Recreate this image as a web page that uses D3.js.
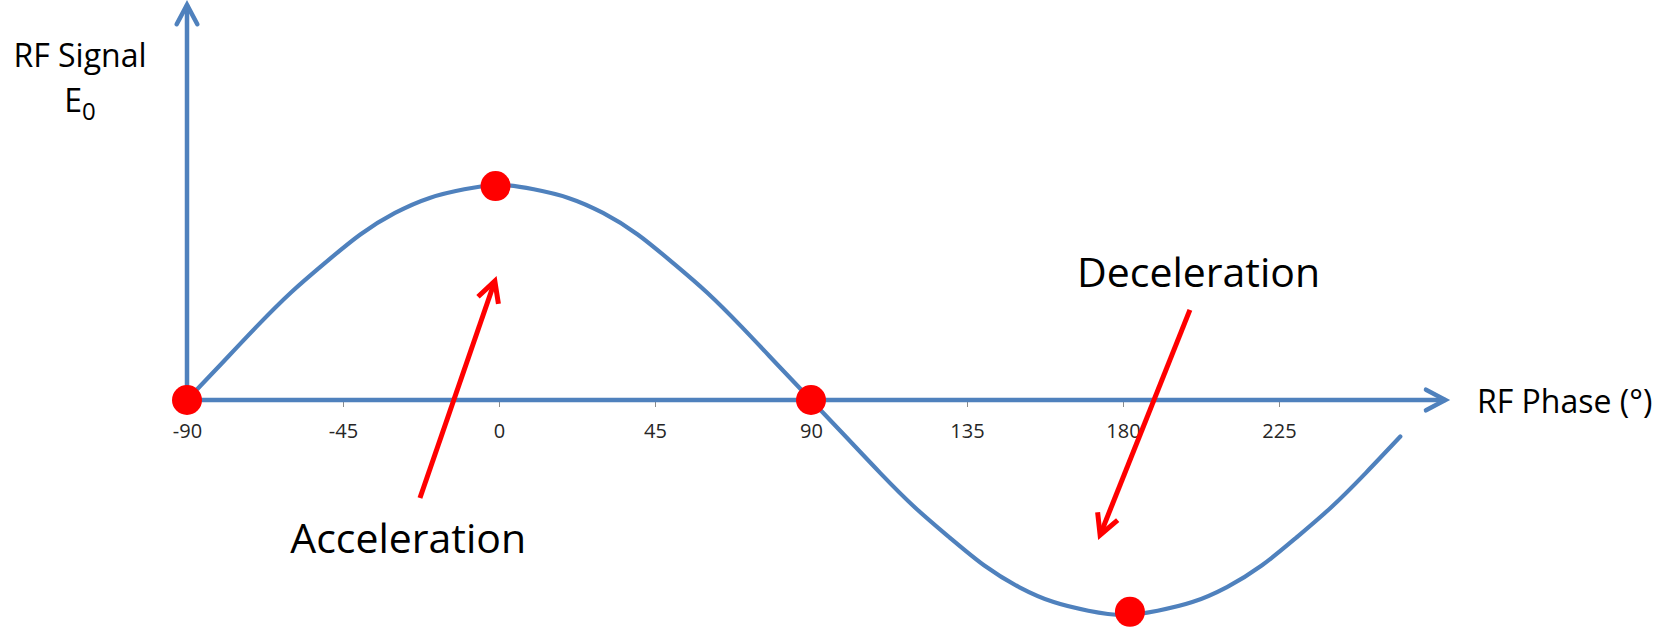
<!DOCTYPE html>
<html>
<head>
<meta charset="utf-8">
<script src="https://cdn.jsdelivr.net/npm/d3@7"></script>
<style>
  html, body { margin: 0; padding: 0; background: #ffffff; }
  svg { display: block; }
  text { font-family: "Open Sans", "Noto Sans", sans-serif; }
</style>
</head>
<body>
<svg id="chart" width="1669" height="627"></svg>
<script>
// ---- data ----
const phases = [-90,-80,-70,-60,-50,-40,-30,-20,-10,0,10,20,30,40,50,60,70,80,90,
                100,110,120,130,140,150,160,170,180,190,200,210,220,230,240,250,260];
const signal = [0.00,0.17,0.34,0.50,0.64,0.77,0.87,0.94,0.98,1.00,0.98,0.94,0.87,0.77,0.64,0.50,0.34,0.17,0.00,
                -0.17,-0.34,-0.50,-0.64,-0.77,-0.87,-0.94,-0.98,-1.00,-0.98,-0.94,-0.87,-0.77,-0.64,-0.50,-0.34,-0.17];
const markerPhases = [-90, -1, 90, 182];
const markerValues = [0.00, 0.995, 0.00, -0.985];
const tickValues = [-90, -45, 0, 45, 90, 135, 180, 225];
const tickLabels = ["-90", "-45", "0", "45", "90", "135", "180", "225"];
const annotationLabels = ["Acceleration", "Deceleration"];
const annotationFrom = [[-22.8, -0.456], [199.3, 0.419]];   // [phase, value]
const annotationTo   = [[-1.2, 0.553], [173.4, -0.628]];
const annotationText = [[-26.2, -0.712], [201.8, 0.526]];
const xAxisEnd = 273;     // phase where the x-axis arrow ends
const yAxisEnd = 1.838;   // value where the y-axis arrow ends

// ---- scales ----
const x = d3.scaleLinear().domain([-90, 270]).range([187, 1435]);
const y = d3.scaleLinear().domain([-1, 1]).range([615, 185]);

const svg = d3.select("#chart");
const blue = "#4F81BD";
const red = "#FF0000";

function chevron(tipX, tipY, angle, len, spread) {
  const back = angle + Math.PI;
  const a1 = back + spread, a2 = back - spread;
  return `M${tipX + len*Math.cos(a1)},${tipY + len*Math.sin(a1)}L${tipX},${tipY}L${tipX + len*Math.cos(a2)},${tipY + len*Math.sin(a2)}`;
}
const spread = 28 * Math.PI / 180;

// ---- ticks via d3 axis ----
const axisG = svg.append("g")
  .attr("transform", `translate(0,${y(0)})`)
  .call(d3.axisBottom(x).tickValues(tickValues).tickSize(7).tickPadding(17)
        .tickFormat((d, i) => tickLabels[i]));
axisG.select(".domain").remove();
axisG.selectAll(".tick line").attr("stroke", "#8c8c8c").attr("stroke-width", 1);
axisG.selectAll(".tick text")
  .attr("fill", "#262626")
  .style("font-size", "20px")
  .style("font-family", "'Open Sans', sans-serif");

// ---- axis lines with chevrons ----
const axW = 4.5;
svg.append("line")
  .attr("x1", x(-90)).attr("y1", y(0)).attr("x2", x(xAxisEnd)).attr("y2", y(0))
  .attr("stroke", blue).attr("stroke-width", axW);
svg.append("path")
  .attr("d", chevron(x(xAxisEnd), y(0), 0, 22, spread))
  .attr("fill", "none").attr("stroke", blue).attr("stroke-width", axW)
  .attr("stroke-linecap", "round").attr("stroke-linejoin", "miter");
svg.append("line")
  .attr("x1", x(-90)).attr("y1", y(0)).attr("x2", x(-90)).attr("y2", y(yAxisEnd))
  .attr("stroke", blue).attr("stroke-width", axW);
svg.append("path")
  .attr("d", chevron(x(-90), y(yAxisEnd), -Math.PI/2, 22, spread))
  .attr("fill", "none").attr("stroke", blue).attr("stroke-width", axW)
  .attr("stroke-linecap", "round").attr("stroke-linejoin", "miter");

// ---- curve ----
const line = d3.line()
  .x((d, i) => x(phases[i]))
  .y((d, i) => y(signal[i]))
  .curve(d3.curveNatural);
svg.append("path")
  .datum(signal)
  .attr("d", line)
  .attr("fill", "none")
  .attr("stroke", blue)
  .attr("stroke-width", 4.2)
  .attr("stroke-linecap", "round");

// ---- annotation arrows ----
annotationFrom.forEach((from, i) => {
  const to = annotationTo[i];
  const x1 = x(from[0]), y1 = y(from[1]), x2 = x(to[0]), y2 = y(to[1]);
  const ang = Math.atan2(y2 - y1, x2 - x1);
  svg.append("line")
    .attr("x1", x1).attr("y1", y1).attr("x2", x2 - 2*Math.cos(ang)).attr("y2", y2 - 2*Math.sin(ang))
    .attr("stroke", red).attr("stroke-width", 5);
  svg.append("path")
    .attr("d", chevron(x2, y2, ang, 23, spread))
    .attr("fill", "none").attr("stroke", red).attr("stroke-width", 5)
    .attr("stroke-linejoin", "miter").attr("stroke-linecap", "butt");
});

// ---- annotation text ----
annotationLabels.forEach((t, i) => {
  svg.append("text")
    .attr("x", x(annotationText[i][0]))
    .attr("y", y(annotationText[i][1]))
    .attr("text-anchor", "middle")
    .attr("fill", "#000")
    .style("font-size", "41px")
    .text(t);
});

// ---- markers ----
svg.append("g").selectAll("circle")
  .data(markerPhases)
  .join("circle")
  .attr("cx", (d) => x(d))
  .attr("cy", (d, i) => y(markerValues[i]))
  .attr("r", 15)
  .attr("fill", red);

// ---- axis titles ----
svg.append("text")
  .attr("x", 80).attr("y", 67)
  .attr("text-anchor", "middle")
  .style("font-size", "32px")
  .attr("fill", "#000")
  .text("RF Signal");
const e0 = svg.append("text")
  .attr("x", 80).attr("y", 112)
  .attr("text-anchor", "middle")
  .style("font-size", "32px")
  .attr("fill", "#000");
e0.append("tspan").text("E");
e0.append("tspan").attr("dy", 8).style("font-size", "24px").text("0");

svg.append("text")
  .attr("x", 1477).attr("y", 413)
  .style("font-size", "32px")
  .attr("fill", "#000")
  .text("RF Phase (°)");
</script>
</body>
</html>
